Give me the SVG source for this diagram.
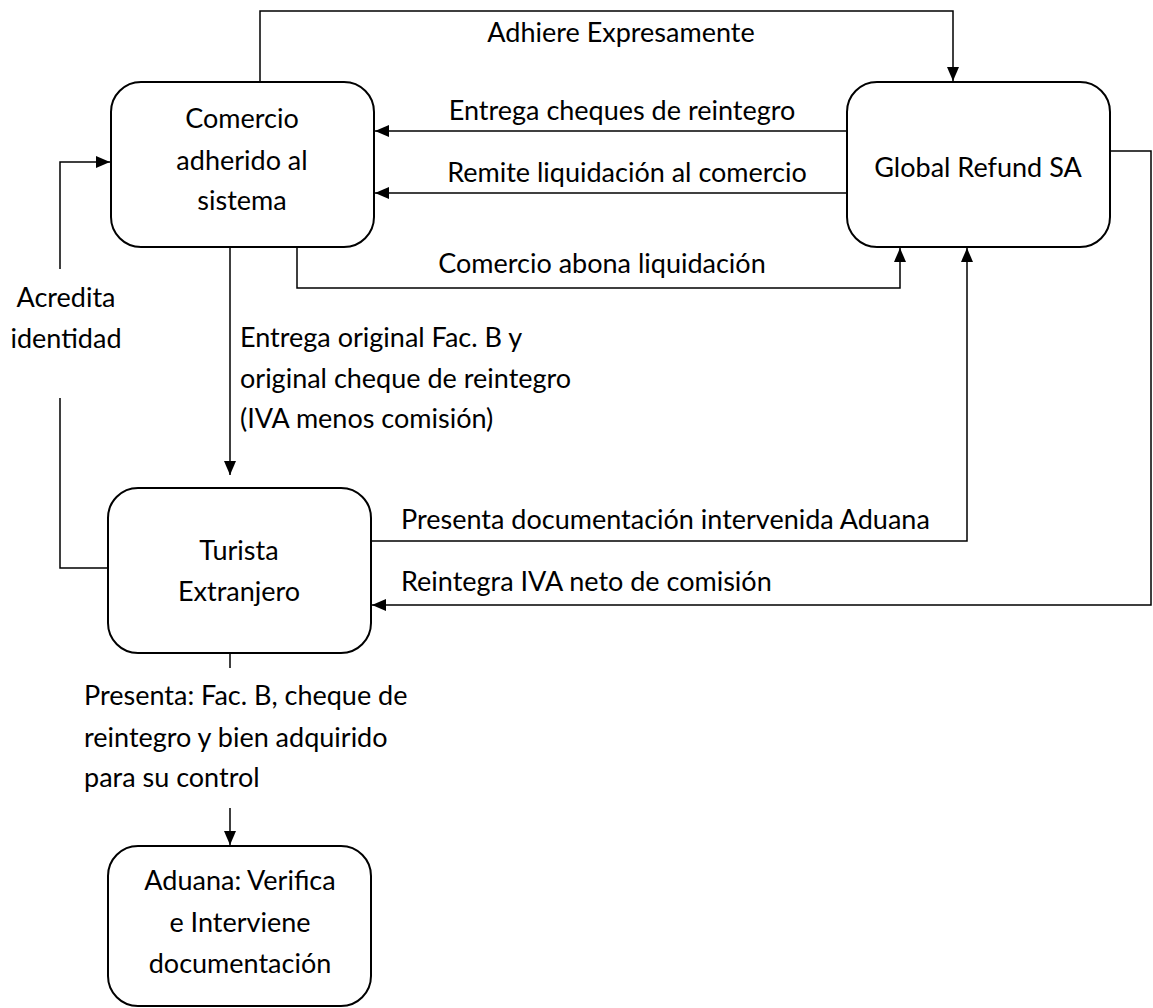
<svg xmlns="http://www.w3.org/2000/svg" width="1153" height="1008" viewBox="0 0 1153 1008">
<style>
.box{fill:#fff;stroke:#000;stroke-width:2}
.ln{fill:none;stroke:#000;stroke-width:1.5}
text{font-family:Lato,"Liberation Sans",sans-serif;font-size:27px;fill:#000}
.c{text-anchor:middle}
</style>
<defs>
<marker id="ah" viewBox="0 0 14 12" refX="14" refY="6" markerWidth="14" markerHeight="12" markerUnits="userSpaceOnUse" orient="auto">
<path d="M0,0 L14,6 L0,12 Z" fill="#000"/>
</marker>
</defs>
<rect width="1153" height="1008" fill="#fff"/>
<g id="connectors">
<path class="ln" d="M260,82 V11 H953 V81" marker-end="url(#ah)"/>
<text class="c" x="621" y="42">Adhiere Expresamente</text>
<path class="ln" d="M847,131 H375" marker-end="url(#ah)"/>
<text class="c" x="622" y="120">Entrega cheques de reintegro</text>
<path class="ln" d="M847,193 H375" marker-end="url(#ah)"/>
<text class="c" x="627" y="182">Remite liquidación al comercio</text>
<path class="ln" d="M297,247 V288 H900 V248" marker-end="url(#ah)"/>
<text class="c" x="602" y="273">Comercio abona liquidación</text>
<path class="ln" d="M230,247 V475" marker-end="url(#ah)"/>
<text x="240" y="347">Entrega original Fac. B y</text>
<text x="240" y="388">original cheque de reintegro</text>
<text x="240" y="428">(IVA menos comisión)</text>
<path class="ln" d="M108,568 H60 V398"/>
<path class="ln" d="M60,269 V162 H110" marker-end="url(#ah)"/>
<text class="c" x="66" y="307">Acredita</text>
<text class="c" x="66" y="348">identidad</text>
<path class="ln" d="M371,541 H967 V248" marker-end="url(#ah)"/>
<text x="401" y="529">Presenta documentación intervenida Aduana</text>
<path class="ln" d="M1110,151 H1151 V605 H372" marker-end="url(#ah)"/>
<text x="401" y="591">Reintegra IVA neto de comisión</text>
<path class="ln" d="M230,653 V668"/>
<path class="ln" d="M230,808 V845" marker-end="url(#ah)"/>
<text x="84" y="705">Presenta: Fac. B, cheque de</text>
<text x="84" y="747">reintegro y bien adquirido</text>
<text x="84" y="787">para su control</text>
</g>
<g id="comercio">
<rect class="box" x="111" y="82" width="263" height="165" rx="30"/>
<text class="c" x="242" y="128">Comercio</text>
<text class="c" x="242" y="170">adherido al</text>
<text class="c" x="242" y="210">sistema</text>
</g>
<g id="global">
<rect class="box" x="847" y="82" width="263" height="165" rx="30"/>
<text class="c" x="978" y="177">Global Refund SA</text>
</g>
<g id="turista">
<rect class="box" x="108" y="488" width="263" height="165" rx="30"/>
<text class="c" x="239" y="560">Turista</text>
<text class="c" x="239" y="601">Extranjero</text>
</g>
<g id="aduana">
<rect class="box" x="108" y="846" width="263" height="160" rx="30"/>
<text class="c" x="240" y="890">Aduana: Verifica</text>
<text class="c" x="240" y="932">e Interviene</text>
<text class="c" x="240" y="973">documentación</text>
</g>
</svg>
